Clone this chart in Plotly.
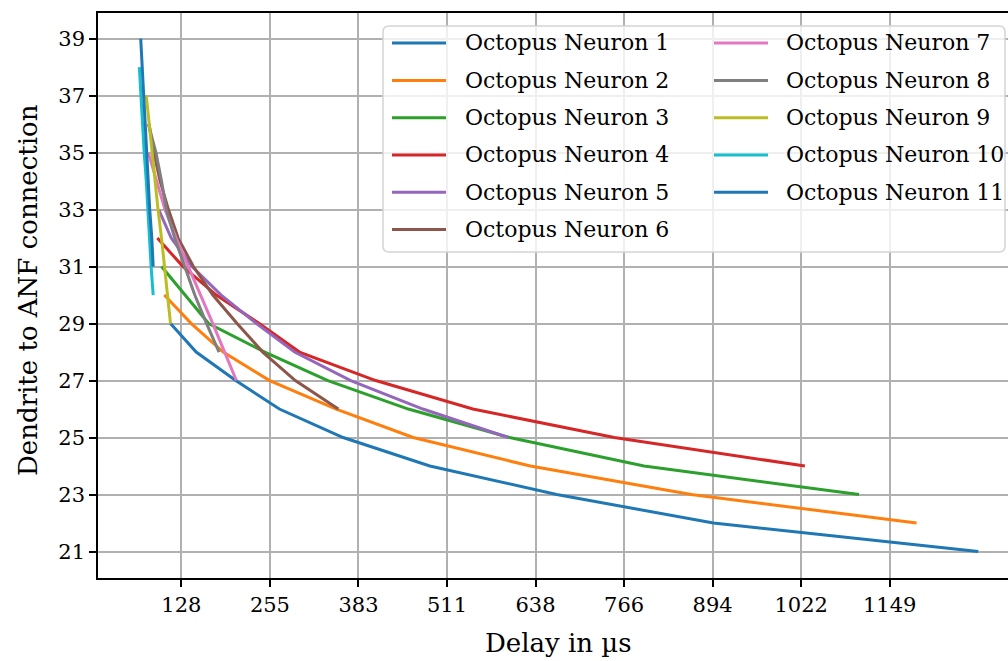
import plotly.graph_objects as go

# Delay (µs) needed for each dendrite-to-ANF connection count, per octopus neuron
NEURON_NAMES = [f"Octopus Neuron {i}" for i in range(1, 12)]

CONNECTIONS = [
    list(range(29, 20, -1)),   # neuron 1
    list(range(30, 21, -1)),   # neuron 2
    list(range(31, 22, -1)),   # neuron 3
    list(range(32, 23, -1)),   # neuron 4
    list(range(33, 24, -1)),   # neuron 5
    list(range(36, 25, -1)),   # neuron 6
    list(range(35, 26, -1)),   # neuron 7
    list(range(36, 27, -1)),   # neuron 8
    list(range(37, 28, -1)),   # neuron 9
    list(range(38, 29, -1)),   # neuron 10
    list(range(39, 30, -1)),   # neuron 11
]

DELAYS = [
    [112, 149, 206, 269, 361, 486, 669, 895, 1277],
    [103, 142, 188, 255, 351, 462, 631, 863, 1188],
    [99, 133, 167, 248, 339, 455, 601, 795, 1105],
    [93, 130, 178, 240, 298, 408, 548, 752, 1027],
    [95, 113, 143, 185, 236, 291, 372, 476, 599],
    [81, 88, 97, 109, 123, 145, 173, 208, 245, 292, 354],
    [80, 92, 104, 120, 138, 155, 173, 190, 207],
    [80, 91, 99, 106, 118, 132, 147, 164, 182],
    [77, 81, 86, 90, 94, 99, 103, 108, 112],
    [67, 69, 72, 74, 77, 79, 82, 84, 87],
    [69, 71, 73, 76, 78, 80, 82, 85, 87],
]

COLORS = ["#1f77b4", "#ff7f0e", "#2ca02c", "#d62728", "#9467bd", "#8c564b",
          "#e377c2", "#7f7f7f", "#bcbd22", "#17becf", "#1f77b4"]

X_TICK_VALUES = [127.7, 255.4, 383.1, 510.8, 638.5, 766.2, 893.9, 1021.6, 1149.3]
X_TICK_LABELS = ["128", "255", "383", "511", "638", "766", "894", "1022", "1149"]
Y_TICK_VALUES = [21, 23, 25, 27, 29, 31, 33, 35, 37, 39]

FONT = "DejaVu Serif"
W, H = 1008, 661
ML, MR, MT, MB = 98, 0, 13, 83
PW, PH = W - ML - MR, H - MT - MB


def px(x):
    return (x - ML) / PW


def py(y):
    return (H - MB - y) / PH


fig = go.Figure()
for name, conn, delay, color in zip(NEURON_NAMES, CONNECTIONS, DELAYS, COLORS):
    fig.add_trace(go.Scatter(
        x=delay, y=conn, mode="lines", name=name,
        line=dict(color=color, width=3), showlegend=False,
    ))

# legend frame, two columns (1-6 and 7-11)
shapes = []
annotations = []
bx0, by0, bx1, by1, rad = 383, 26, 1005, 252, 6
path = (f"M{px(bx0 + rad)},{py(by0)} L{px(bx1 - rad)},{py(by0)} "
        f"Q{px(bx1)},{py(by0)} {px(bx1)},{py(by0 + rad)} "
        f"L{px(bx1)},{py(by1 - rad)} Q{px(bx1)},{py(by1)} {px(bx1 - rad)},{py(by1)} "
        f"L{px(bx0 + rad)},{py(by1)} Q{px(bx0)},{py(by1)} {px(bx0)},{py(by1 - rad)} "
        f"L{px(bx0)},{py(by0 + rad)} Q{px(bx0)},{py(by0)} {px(bx0 + rad)},{py(by0)} Z")
shapes.append(dict(type="path", path=path, xref="paper", yref="paper",
                   fillcolor="rgba(255,255,255,0.8)",
                   line=dict(color="#d4d4d4", width=1.5), layer="above"))

row_y = [43, 80.5, 117.8, 155, 192.2, 229.4]
for i, (name, color) in enumerate(zip(NEURON_NAMES, COLORS)):
    col, row = (0, i) if i < 6 else (1, i - 6)
    hx0 = 392 if col == 0 else 714
    tx = 463 if col == 0 else 784
    y = row_y[row]
    shapes.append(dict(type="line", xref="paper", yref="paper",
                       x0=px(hx0), x1=px(hx0 + 54), y0=py(y), y1=py(y),
                       line=dict(color=color, width=3), layer="above"))
    annotations.append(dict(text=name, xref="paper", yref="paper",
                            x=px(tx), y=py(y), xanchor="left", yanchor="middle",
                            showarrow=False, font=dict(family=FONT, size=22, color="black")))

annotations.append(dict(text="Delay in µs", xref="paper", yref="paper",
                        x=px(558), y=py(643), xanchor="center", yanchor="middle",
                        showarrow=False, font=dict(family=FONT, size=26, color="black")))
annotations.append(dict(text="Dendrite to ANF connection", xref="paper", yref="paper",
                        x=px(28), y=py(290), xanchor="center", yanchor="middle",
                        textangle=-90, showarrow=False,
                        font=dict(family=FONT, size=26, color="black")))

fig.update_layout(
    width=W, height=H,
    margin=dict(l=ML, r=MR, t=MT, b=MB),
    paper_bgcolor="white", plot_bgcolor="white",
    shapes=shapes, annotations=annotations,
    showlegend=False,
    font=dict(family=FONT, size=21, color="black"),
)
fig.update_xaxes(
    range=[7.4, 1319.9], tickvals=X_TICK_VALUES, ticktext=X_TICK_LABELS,
    showgrid=True, gridcolor="#b0b0b0", gridwidth=1.6,
    showline=True, linecolor="black", linewidth=1.5, mirror=True,
    ticks="outside", ticklen=7, tickwidth=1.5, tickcolor="black",
    zeroline=False, tickfont=dict(family=FONT, size=21, color="black"),
)
fig.update_yaxes(
    range=[20.07, 39.9], tickvals=Y_TICK_VALUES,
    showgrid=True, gridcolor="#b0b0b0", gridwidth=1.6,
    showline=True, linecolor="black", linewidth=1.5, mirror=False,
    ticks="outside", ticklen=7, tickwidth=1.5, tickcolor="black",
    zeroline=False, tickfont=dict(family=FONT, size=21, color="black"),
)

fig.write_html("out.html")
